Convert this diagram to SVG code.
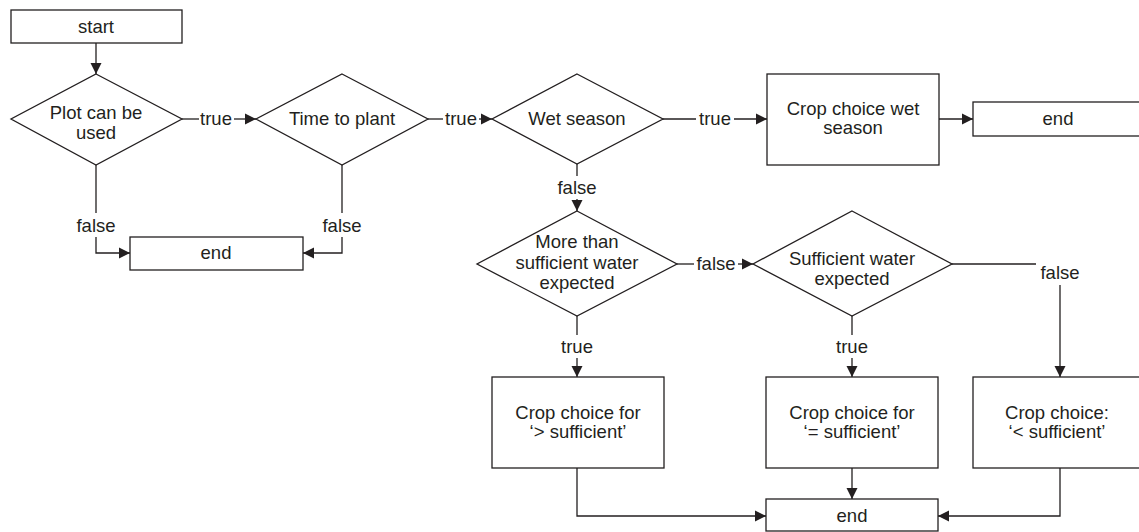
<svg xmlns="http://www.w3.org/2000/svg" width="1139" height="532" viewBox="0 0 1139 532">
<defs>
<style>
.n{fill:#fff;stroke:#231f20;stroke-width:1.3}
.c{fill:none;stroke:#231f20;stroke-width:1.3}
text{font-family:"Liberation Sans",Arial,sans-serif;font-size:18.5px;fill:#231f20;text-anchor:middle}
</style>
<marker id="ah" markerUnits="userSpaceOnUse" markerWidth="12" markerHeight="12" refX="11" refY="6" orient="auto">
<path d="M0,0.5 L11,6 L0,11.5 Z" fill="#231f20"/>
</marker>
</defs>
<rect width="1139" height="532" fill="#fff"/>
<g id="connectors">
<path class="c" d="M96,43 V74" marker-end="url(#ah)"/>
<path class="c" d="M182,119 H199"/><text x="216" y="125">true</text><path class="c" d="M234,119 H256" marker-end="url(#ah)"/>
<path class="c" d="M428,119 H443"/><text x="461" y="125">true</text><path class="c" d="M479,119 H492" marker-end="url(#ah)"/>
<path class="c" d="M663,119 H696"/><text x="715" y="125">true</text><path class="c" d="M734,119 H767" marker-end="url(#ah)"/>
<path class="c" d="M939,119 H973" marker-end="url(#ah)"/>
<path class="c" d="M577,164 V176"/><text x="577" y="194">false</text><path class="c" d="M577,199 V211" marker-end="url(#ah)"/>
<path class="c" d="M96,165 V213"/><text x="96" y="232">false</text><path class="c" d="M96,237 V253 H130" marker-end="url(#ah)"/>
<path class="c" d="M342,165 V213"/><text x="342" y="232">false</text><path class="c" d="M342,237 V253 H303" marker-end="url(#ah)"/>
<path class="c" d="M677,264 H694"/><text x="716" y="270">false</text><path class="c" d="M738,264 H753" marker-end="url(#ah)"/>
<path class="c" d="M952,264 H1036"/><text x="1060" y="279">false</text><path class="c" d="M1060,285 V377" marker-end="url(#ah)"/>
<path class="c" d="M577,316 V335"/><text x="577" y="353">true</text><path class="c" d="M577,358 V377" marker-end="url(#ah)"/>
<path class="c" d="M852,316 V335"/><text x="852" y="353">true</text><path class="c" d="M852,358 V377" marker-end="url(#ah)"/>
<path class="c" d="M577,468 V516 H766" marker-end="url(#ah)"/>
<path class="c" d="M852,468 V499" marker-end="url(#ah)"/>
<path class="c" d="M1060,468 V516 H938" marker-end="url(#ah)"/>
</g>
<g id="start"><rect class="n" x="11" y="10" width="171" height="33"/><text x="96" y="33">start</text></g>
<g id="plot"><polygon class="n" points="96,74 182,119 96,165 11,119"/><text x="96" y="119">Plot can be</text><text x="96" y="139">used</text></g>
<g id="time"><polygon class="n" points="342,74 428,119 342,165 256,119"/><text x="342" y="125">Time to plant</text></g>
<g id="end1"><rect class="n" x="130" y="237" width="173" height="33"/><text x="216" y="259">end</text></g>
<g id="wet"><polygon class="n" points="577,74 663,119 577,164 492,119"/><text x="577" y="125">Wet season</text></g>
<g id="cropwet"><rect class="n" x="767" y="74" width="172" height="91"/><text x="853" y="115">Crop choice wet</text><text x="853" y="134">season</text></g>
<g id="end2"><rect class="n" x="973" y="102" width="175" height="34"/><text x="1058" y="125">end</text></g>
<g id="more"><polygon class="n" points="577,211 677,264 577,316 477,264"/><text x="577" y="248">More than</text><text x="577" y="269">sufficient water</text><text x="577" y="289">expected</text></g>
<g id="suff"><polygon class="n" points="852,211 952,264 852,316 753,264"/><text x="852" y="265">Sufficient water</text><text x="852" y="285">expected</text></g>
<g id="cropA"><rect class="n" x="492" y="377" width="172" height="91"/><text x="578" y="419">Crop choice for</text><text x="578" y="438">‘&gt; sufficient’</text></g>
<g id="cropB"><rect class="n" x="766" y="377" width="172" height="91"/><text x="852" y="419">Crop choice for</text><text x="852" y="438">‘= sufficient’</text></g>
<g id="cropC"><rect class="n" x="973" y="377" width="175" height="91"/><text x="1057" y="419">Crop choice:</text><text x="1057" y="438">‘&lt; sufficient’</text></g>
<g id="end3"><rect class="n" x="766" y="499" width="172" height="32"/><text x="852" y="522">end</text></g>
</svg>
